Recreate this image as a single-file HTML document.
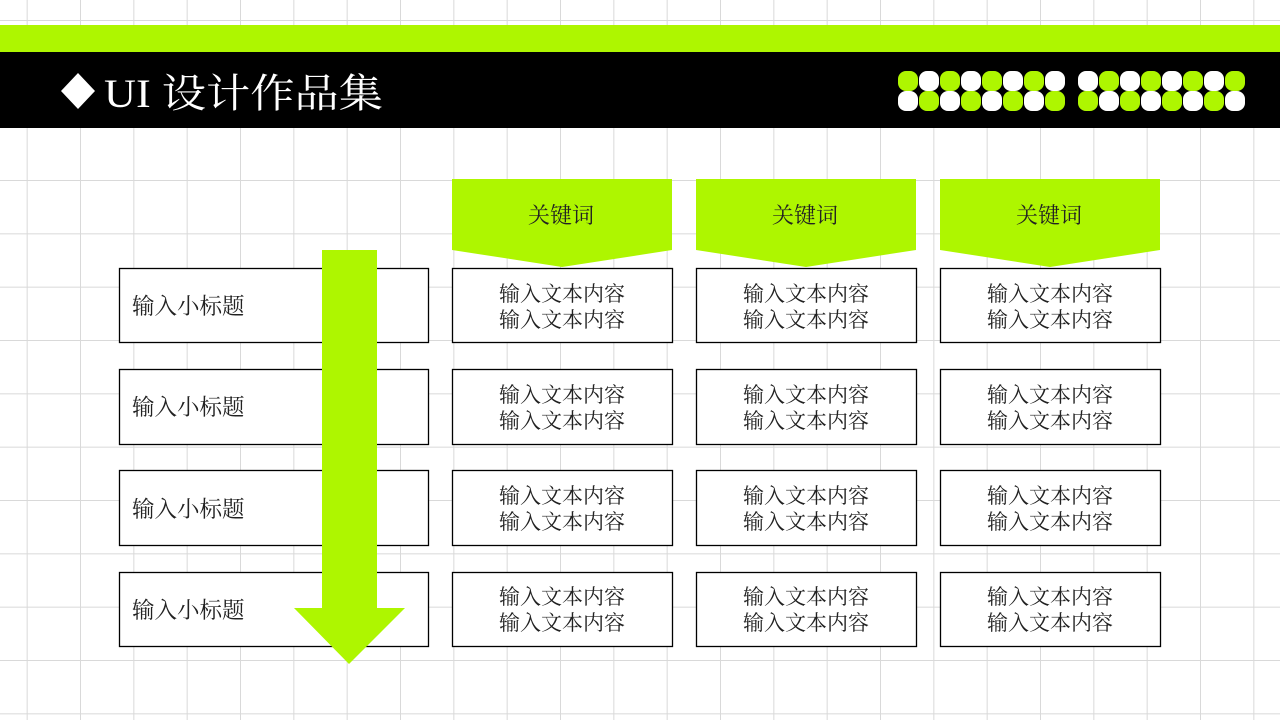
<!DOCTYPE html>
<html><head><meta charset="utf-8"><style>
html,body{margin:0;padding:0;background:#fff}
svg{display:block}
text{font-family:"Liberation Serif","Noto Serif CJK SC",serif}
</style></head><body>
<svg width="1280" height="720" viewBox="0 0 1280 720" xmlns="http://www.w3.org/2000/svg">
<defs>
<pattern id="g" x="26.67" y="20" width="53.333" height="53.333" patternUnits="userSpaceOnUse">
<path d="M0 0V53.333M0 0H53.333" stroke="#d9d9d9" stroke-width="2" fill="none"/>
</pattern>
</defs>
<rect width="1280" height="720" fill="#fff"/>
<rect width="1280" height="720" fill="url(#g)"/>
<rect x="0" y="25" width="1280" height="27" fill="#aef600"/>
<rect x="0" y="52" width="1280" height="76" fill="#000"/>
<path d="M78 73L95 91L78 109L61 91Z" fill="#fff"/>
<text x="104" y="107" font-size="40" fill="#fff" textLength="279" lengthAdjust="spacingAndGlyphs">UI 设计作品集</text>
<g>
<rect x="898" y="71" width="20" height="20" rx="8" fill="#aef600"/>
<rect x="919" y="71" width="20" height="20" rx="8" fill="#fff"/>
<rect x="940" y="71" width="20" height="20" rx="8" fill="#aef600"/>
<rect x="961" y="71" width="20" height="20" rx="8" fill="#fff"/>
<rect x="982" y="71" width="20" height="20" rx="8" fill="#aef600"/>
<rect x="1003" y="71" width="20" height="20" rx="8" fill="#fff"/>
<rect x="1024" y="71" width="20" height="20" rx="8" fill="#aef600"/>
<rect x="1045" y="71" width="20" height="20" rx="8" fill="#fff"/>
<rect x="898" y="91" width="20" height="20" rx="8" fill="#fff"/>
<rect x="919" y="91" width="20" height="20" rx="8" fill="#aef600"/>
<rect x="940" y="91" width="20" height="20" rx="8" fill="#fff"/>
<rect x="961" y="91" width="20" height="20" rx="8" fill="#aef600"/>
<rect x="982" y="91" width="20" height="20" rx="8" fill="#fff"/>
<rect x="1003" y="91" width="20" height="20" rx="8" fill="#aef600"/>
<rect x="1024" y="91" width="20" height="20" rx="8" fill="#fff"/>
<rect x="1045" y="91" width="20" height="20" rx="8" fill="#aef600"/>
</g>
<g transform="translate(180,0)">
<rect x="898" y="71" width="20" height="20" rx="8" fill="#fff"/>
<rect x="919" y="71" width="20" height="20" rx="8" fill="#aef600"/>
<rect x="940" y="71" width="20" height="20" rx="8" fill="#fff"/>
<rect x="961" y="71" width="20" height="20" rx="8" fill="#aef600"/>
<rect x="982" y="71" width="20" height="20" rx="8" fill="#fff"/>
<rect x="1003" y="71" width="20" height="20" rx="8" fill="#aef600"/>
<rect x="1024" y="71" width="20" height="20" rx="8" fill="#fff"/>
<rect x="1045" y="71" width="20" height="20" rx="8" fill="#aef600"/>
<rect x="898" y="91" width="20" height="20" rx="8" fill="#aef600"/>
<rect x="919" y="91" width="20" height="20" rx="8" fill="#fff"/>
<rect x="940" y="91" width="20" height="20" rx="8" fill="#aef600"/>
<rect x="961" y="91" width="20" height="20" rx="8" fill="#fff"/>
<rect x="982" y="91" width="20" height="20" rx="8" fill="#aef600"/>
<rect x="1003" y="91" width="20" height="20" rx="8" fill="#fff"/>
<rect x="1024" y="91" width="20" height="20" rx="8" fill="#aef600"/>
<rect x="1045" y="91" width="20" height="20" rx="8" fill="#fff"/>
</g>
<g fill="#aef600">
<path d="M452 179H672V250L562 267L452 250Z"/>
<path d="M696 179H916V250L806 267L696 250Z"/>
<path d="M940 179H1160V250L1050 267L940 250Z"/>
</g>
<g font-size="22" fill="#222" text-anchor="middle">
<text x="561" y="223">关键词</text>
<text x="805" y="223">关键词</text>
<text x="1049" y="223">关键词</text>
</g>
<g fill="#fff" stroke="#000" stroke-width="1.3">
<rect x="119.5" y="268.5" width="309" height="74"/>
<rect x="119.5" y="369.5" width="309" height="75"/>
<rect x="119.5" y="470.5" width="309" height="75"/>
<rect x="119.5" y="572.5" width="309" height="74"/>
<rect x="452.5" y="268.5" width="220" height="74"/><rect x="696.5" y="268.5" width="220" height="74"/><rect x="940.5" y="268.5" width="220" height="74"/>
<rect x="452.5" y="369.5" width="220" height="75"/><rect x="696.5" y="369.5" width="220" height="75"/><rect x="940.5" y="369.5" width="220" height="75"/>
<rect x="452.5" y="470.5" width="220" height="75"/><rect x="696.5" y="470.5" width="220" height="75"/><rect x="940.5" y="470.5" width="220" height="75"/>
<rect x="452.5" y="572.5" width="220" height="74"/><rect x="696.5" y="572.5" width="220" height="74"/><rect x="940.5" y="572.5" width="220" height="74"/>
</g>
<g font-size="22.5" fill="#222">
<text x="132" y="314">输入小标题</text>
<text x="132" y="415">输入小标题</text>
<text x="132" y="517">输入小标题</text>
<text x="132" y="618">输入小标题</text>
</g>
<g font-size="21" fill="#222" text-anchor="middle">
<text x="562" y="301">输入文本内容</text><text x="562" y="327">输入文本内容</text>
<text x="806" y="301">输入文本内容</text><text x="806" y="327">输入文本内容</text>
<text x="1050" y="301">输入文本内容</text><text x="1050" y="327">输入文本内容</text>
<text x="562" y="402">输入文本内容</text><text x="562" y="428">输入文本内容</text>
<text x="806" y="402">输入文本内容</text><text x="806" y="428">输入文本内容</text>
<text x="1050" y="402">输入文本内容</text><text x="1050" y="428">输入文本内容</text>
<text x="562" y="503">输入文本内容</text><text x="562" y="529">输入文本内容</text>
<text x="806" y="503">输入文本内容</text><text x="806" y="529">输入文本内容</text>
<text x="1050" y="503">输入文本内容</text><text x="1050" y="529">输入文本内容</text>
<text x="562" y="604">输入文本内容</text><text x="562" y="630">输入文本内容</text>
<text x="806" y="604">输入文本内容</text><text x="806" y="630">输入文本内容</text>
<text x="1050" y="604">输入文本内容</text><text x="1050" y="630">输入文本内容</text>
</g>
<path d="M322 250H377V608H405L349 664L294 608H322Z" fill="#aef600"/>
</svg>
</body></html>
